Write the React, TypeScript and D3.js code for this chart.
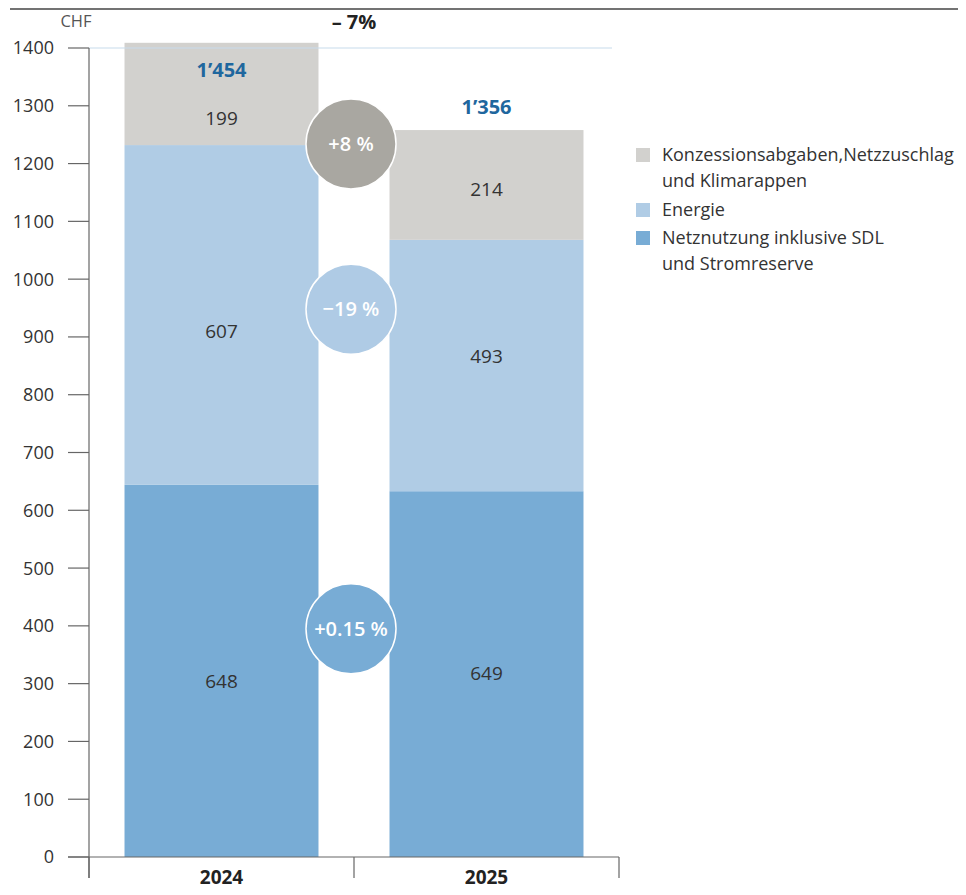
import React from 'react';
import { scaleBand, scaleLinear, range } from 'd3';

// values as drawn in the picture (CHF)
const years = ['2024', '2025'];
const netznutzung = [644, 633];
const energie = [588, 435];
const abgaben = [177, 190];

// printed labels and where they sit (CHF units)
const netzLabels = ['648', '649'];
const netzLabelAt = [305, 318];
const energieLabels = ['607', '493'];
const energieLabelAt = [910, 867];
const abgabenLabels = ['199', '214'];
const abgabenLabelAt = [1279, 1156];
const totalLabels = ['1’454', '1’356'];
const totalLabelAt = [1362, 1298];

const changes = ['+8 %', '−19 %', '+0.15 %'];
const changeAt = [1234, 948, 395];
const changeColors = ['#a9a7a1', '#afcbe5', '#78acd5'];

const yTicks = range(0, 1401, 100);

const segColors = ['#78acd5', '#b0cce5', '#d2d1ce'];
const legendItems = [
  { lines: ['Konzessionsabgaben,Netzzuschlag', 'und Klimarappen'], color: segColors[2] },
  { lines: ['Energie'], color: segColors[1] },
  { lines: ['Netznutzung inklusive SDL', 'und Stromreserve'], color: segColors[0] },
];

const W = 966;
const H = 895;
const font = "'Open Sans', 'Noto Sans', sans-serif";

export default function App() {
  const y = scaleLinear().domain([0, 1400]).range([857, 48]);
  const x = scaleBand().domain(years).range([89, 619]).paddingInner(0.268).paddingOuter(0.134);

  const stacks = years.map((yr, i) => {
    const parts = [netznutzung[i], energie[i], abgaben[i]];
    const labels = [netzLabels[i], energieLabels[i], abgabenLabels[i]];
    const labelAt = [netzLabelAt[i], energieLabelAt[i], abgabenLabelAt[i]];
    let acc = 0;
    return parts.map((v, k) => {
      const s = { y0: acc, y1: acc + v, label: labels[k], at: labelAt[k], color: segColors[k] };
      acc += v;
      return s;
    });
  });

  const cx = x.range()[0] + x.step();
  let legY = 155;

  return (
    // negative margin cancels the body margin so the svg covers the whole page
    <svg width={W} height={H} style={{ display: 'block', margin: -8 }} fontFamily={font}>
      <line x1={10} x2={W} y1={9} y2={9} stroke="#444" strokeWidth={1.5} />
      <line x1={8} x2={W} y1={888} y2={888} stroke="#444" strokeWidth={1.5} />

      {/* bars */}
      {stacks.map((segs, i) =>
        segs.map((s, k) => (
          <rect
            key={`${i}-${k}`}
            x={x(years[i])}
            width={x.bandwidth()}
            y={y(s.y1)}
            height={y(s.y0) - y(s.y1)}
            fill={s.color}
          />
        ))
      )}

      {/* 1400 line */}
      <line x1={89} x2={612} y1={y(1400)} y2={y(1400)} stroke="#c7dcec" strokeWidth={1.2} />

      {/* y axis */}
      <line x1={89} x2={89} y1={y(1400)} y2={878} stroke="#666" strokeWidth={1.2} />
      {yTicks.map((t) => (
        <g key={t}>
          <line x1={68} x2={89} y1={y(t)} y2={y(t)} stroke="#666" strokeWidth={1.2} />
          <text x={54} y={y(t)} dy="0.36em" textAnchor="end" fontSize={18} fill="#333">
            {t}
          </text>
        </g>
      ))}
      <text x={76} y={27} textAnchor="middle" fontSize={16.5} fill="#555">CHF</text>

      {/* baseline and category dividers */}
      <line x1={68} x2={x.range()[1]} y1={y(0)} y2={y(0)} stroke="#666" strokeWidth={1.2} />
      {[0, 1, 2].map((i) => (
        <line
          key={i}
          x1={x.range()[0] + i * x.step()}
          x2={x.range()[0] + i * x.step()}
          y1={y(0)}
          y2={878}
          stroke="#666"
          strokeWidth={1.2}
        />
      ))}
      {years.map((yr) => (
        <text
          key={yr}
          x={x(yr)! + x.bandwidth() / 2}
          y={884}
          textAnchor="middle"
          fontSize={19}
          fontWeight={700}
          fill="#222"
        >
          {yr}
        </text>
      ))}

      {/* segment labels */}
      {stacks.map((segs, i) =>
        segs.map((s, k) => (
          <text
            key={`l${i}-${k}`}
            x={x(years[i])! + x.bandwidth() / 2}
            y={y(s.at)}
            dy="0.36em"
            textAnchor="middle"
            fontSize={19}
            fill="#333"
          >
            {s.label}
          </text>
        ))
      )}

      {/* totals */}
      {years.map((yr, i) => (
        <text
          key={`t${yr}`}
          x={x(yr)! + x.bandwidth() / 2}
          y={y(totalLabelAt[i])}
          dy="0.36em"
          textAnchor="middle"
          fontSize={20}
          fontWeight={700}
          fill="#1f679e"
        >
          {totalLabels[i]}
        </text>
      ))}
      <text x={cx} y={22} dy="0.36em" textAnchor="middle" fontSize={20} fontWeight={700} fill="#222">
        – 7%
      </text>

      {/* change bubbles */}
      {changes.map((c, i) => (
        <g key={c} transform={`translate(${cx - 3},${y(changeAt[i])})`}>
          <circle r={45} fill={changeColors[i]} stroke="#fff" strokeWidth={1.5} />
          <text dy="0.36em" textAnchor="middle" fontSize={20} fontWeight={600} fill="#fff">
            {c}
          </text>
        </g>
      ))}

      {/* legend */}
      {legendItems.map((it) => {
        const top = legY;
        legY += it.lines.length * 27 + 1;
        return (
          <g key={it.lines[0]}>
            <rect x={636} y={top - 7} width={14} height={14} fill={it.color} />
            {it.lines.map((ln, j) => (
              <text key={ln} x={662} y={top + j * 26} dy="0.36em" fontSize={18} fill="#333">
                {ln}
              </text>
            ))}
          </g>
        );
      })}
    </svg>
  );
}
